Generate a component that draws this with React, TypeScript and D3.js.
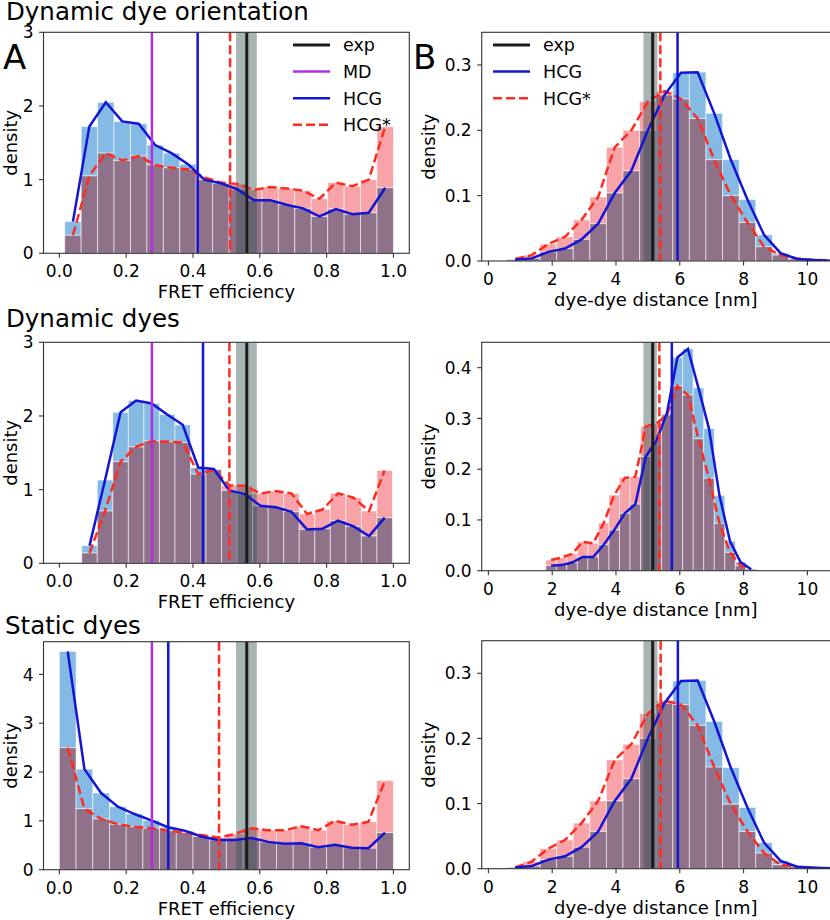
import React from 'react';
import * as d3 from 'd3';

// ---------- data ----------
const effTicks = [0, 0.2, 0.4, 0.6, 0.8, 1.0];
const distTicks = [0, 2, 4, 6, 8, 10];
const densTicksA = [0, 1, 2, 3];
const densTicksA3 = [0, 1, 2, 3, 4];
const densTicksB = [0, 0.1, 0.2, 0.3];
const densTicksB2 = [0, 0.1, 0.2, 0.3, 0.4];

// histogram bins: [first edge, bin width]
const binsOrientE = [0.016, 0.0492];
const binsDynE = [0.067, 0.0465];
const binsStatE = [0.0, 0.05];
const binsOrientD = [0.58, 0.52];
const binsDynD = [1.8, 0.33];
const binsStatD = [0.58, 0.52];

// FRET efficiency densities
const hcgOrientE = [0.43, 1.72, 2.05, 1.79, 1.76, 1.47, 1.36, 1.21, 1.0, 0.95, 0.87, 0.72, 0.72, 0.66, 0.61, 0.5, 0.6, 0.53, 0.55, 0.89];
const hcgStarOrientE = [0.245, 1.05, 1.36, 1.26, 1.32, 1.2, 1.16, 1.14, 1.03, 0.96, 0.94, 0.86, 0.9, 0.88, 0.85, 0.74, 0.96, 0.91, 1.0, 1.72];
const hcgDynE = [0.24, 1.13, 2.05, 2.21, 2.17, 2.02, 1.88, 1.3, 1.28, 0.99, 0.94, 0.78, 0.76, 0.7, 0.46, 0.47, 0.58, 0.5, 0.37, 0.62];
const hcgStarDynE = [0.14, 0.71, 1.38, 1.58, 1.66, 1.65, 1.64, 1.21, 1.27, 1.06, 1.05, 0.95, 0.98, 0.95, 0.67, 0.73, 0.95, 0.89, 0.71, 1.26];
const hcgStatE = [4.47, 2.06, 1.57, 1.29, 1.14, 1.01, 0.87, 0.8, 0.68, 0.61, 0.61, 0.65, 0.57, 0.53, 0.54, 0.46, 0.51, 0.45, 0.44, 0.76];
const hcgStarStatE = [2.5, 1.25, 1.04, 0.93, 0.88, 0.85, 0.8, 0.76, 0.71, 0.66, 0.73, 0.85, 0.81, 0.81, 0.89, 0.81, 1.0, 0.92, 0.98, 1.83];

// dye-dye distance densities
const hcgOrientD = [0.002, 0.004, 0.014, 0.019, 0.033, 0.057, 0.104, 0.138, 0.2, 0.254, 0.288, 0.289, 0.226, 0.155, 0.094, 0.04, 0.012, 0.003, 0.0015, 0.0005];
const hcgStarOrientD = [0.003, 0.009, 0.026, 0.037, 0.063, 0.098, 0.174, 0.2, 0.244, 0.26, 0.248, 0.218, 0.155, 0.1, 0.059, 0.022, 0.009, 0.004, 0.0015, 0.001];
const hcgDynD = [0.01, 0.011, 0.016, 0.027, 0.027, 0.051, 0.08, 0.113, 0.131, 0.225, 0.256, 0.31, 0.42, 0.437, 0.36, 0.28, 0.148, 0.058, 0.017, 0.003];
const hcgStarDynD = [0.021, 0.026, 0.033, 0.057, 0.054, 0.094, 0.149, 0.183, 0.185, 0.284, 0.29, 0.307, 0.364, 0.346, 0.26, 0.182, 0.093, 0.036, 0.01, 0.003];
const hcgStatD = [0.002, 0.004, 0.014, 0.019, 0.033, 0.057, 0.104, 0.138, 0.2, 0.254, 0.288, 0.289, 0.226, 0.155, 0.094, 0.04, 0.012, 0.003, 0.0015, 0.0005];
const hcgStarStatD = [0.002, 0.011, 0.031, 0.044, 0.07, 0.104, 0.167, 0.191, 0.238, 0.258, 0.252, 0.22, 0.156, 0.099, 0.057, 0.024, 0.006, 0.003, 0.001, 0.0005];

// vertical markers: [MD, HCG, HCG*, exp, exp low, exp high]
const markOrientE = [0.277, 0.414, 0.511, 0.561, 0.529, 0.591];
const markDynE = [0.277, 0.43, 0.509, 0.561, 0.529, 0.591];
const markStatE = [0.277, 0.326, 0.478, 0.561, 0.529, 0.591];
const markOrientD = [null, 5.93, 5.39, 5.15, 4.86, 5.3];
const markDynD = [null, 5.75, 5.36, 5.15, 4.86, 5.28];
const markStatD = [null, 5.94, 5.4, 5.15, 4.86, 5.3];

const legendA = ['exp', 'MD', 'HCG', 'HCG*'];
const legendB = ['exp', 'HCG', 'HCG*'];

// ---------- style ----------
const FONT = 'DejaVu Sans, Verdana, sans-serif';
const C_BLUE_BAR = '#84bae4';
const C_RED_BAR = '#f8a3a7';
const C_OVER = '#8f7189';
const C_BLUE = '#1414d4';
const C_RED = '#ff2b1f';
const C_MD = '#b22ee0';
const C_EXP = '#1c1c1c';
const DASH = '9,4';

type PanelCfg = {
  id: string;
  left: number; right: number; top: number; bottom: number;
  xDomain: [number, number]; yDomain: [number, number];
  xTicks: number[]; yTicks: number[];
  xFmt: (v: number) => string; yFmt: (v: number) => string;
  bins: number[]; blue: number[]; red: number[];
  marks: (number | null)[];
  xLabel: string;
  legend?: string[]; legendX?: number;
};

function Panel({ p }: { p: PanelCfg }) {
  const x = d3.scaleLinear().domain(p.xDomain).range([p.left, p.right]);
  const y = d3.scaleLinear().domain(p.yDomain).range([p.bottom, p.top]);
  const [b0, bw] = p.bins;
  const edges = p.blue.map((_, i) => [b0 + i * bw, b0 + (i + 1) * bw]);
  const centers = edges.map(e => (e[0] + e[1]) / 2);
  const line = d3.line<number>().x((_, i) => x(centers[i])).y(v => y(v));
  const clip = `clip-${p.id}`;
  const [md, hcg, hcgS, exp, eLo, eHi] = p.marks;
  const edgeStroke = 'rgba(255,255,255,0.55)';

  return (
    <g>
      <defs>
        <clipPath id={clip}>
          <rect x={p.left} y={p.top} width={p.right - p.left} height={p.bottom - p.top} />
        </clipPath>
      </defs>
      <g clipPath={`url(#${clip})`}>
        {edges.map((e, i) => {
          const b = p.blue[i], r = p.red[i];
          const m = Math.min(b, r), M = Math.max(b, r);
          const xa = x(e[0]), xb = x(e[1]);
          return (
            <g key={i}>
              <rect x={xa} y={y(M)} width={xb - xa} height={y(m) - y(M)}
                fill={b > r ? C_BLUE_BAR : C_RED_BAR} stroke={edgeStroke} strokeWidth={1} />
              <rect x={xa} y={y(m)} width={xb - xa} height={y(0) - y(m)}
                fill={C_OVER} stroke={edgeStroke} strokeWidth={1} />
            </g>
          );
        })}
        <rect x={x(eLo as number)} y={p.top} width={x(eHi as number) - x(eLo as number)} height={p.bottom - p.top}
          fill="#2f4f4f" fillOpacity={0.42} />
        <path d={line(p.red) || ''} fill="none" stroke={C_RED} strokeWidth={2.5} strokeDasharray={DASH} />
        <path d={line(p.blue) || ''} fill="none" stroke={C_BLUE} strokeWidth={2.5} />
        {md !== null && <line x1={x(md as number)} x2={x(md as number)} y1={p.top} y2={p.bottom} stroke={C_MD} strokeWidth={2.5} />}
        <line x1={x(hcg as number)} x2={x(hcg as number)} y1={p.top} y2={p.bottom} stroke={C_BLUE} strokeWidth={2.5} />
        <line x1={x(hcgS as number)} x2={x(hcgS as number)} y1={p.top} y2={p.bottom} stroke={C_RED} strokeWidth={2.5} strokeDasharray={DASH} />
        <line x1={x(exp as number)} x2={x(exp as number)} y1={p.top} y2={p.bottom} stroke={C_EXP} strokeWidth={3} />
      </g>
      {/* frame */}
      <rect x={p.left} y={p.top} width={p.right - p.left} height={p.bottom - p.top} fill="none" stroke="#333" strokeWidth={1.1} />
      {/* x ticks */}
      {p.xTicks.map(t => (
        <g key={'x' + t}>
          <line x1={x(t)} x2={x(t)} y1={p.bottom} y2={p.bottom + 4.5} stroke="#333" strokeWidth={1.1} />
          <text x={x(t)} y={p.bottom + 24} textAnchor="middle" fontSize={17} fontFamily={FONT}>{p.xFmt(t)}</text>
        </g>
      ))}
      {p.yTicks.map(t => (
        <g key={'y' + t}>
          <line x1={p.left - 4.5} x2={p.left} y1={y(t)} y2={y(t)} stroke="#333" strokeWidth={1.1} />
          <text x={p.left - 10} y={y(t)} dy="0.36em" textAnchor="end" fontSize={17} fontFamily={FONT}>{p.yFmt(t)}</text>
        </g>
      ))}
      <text x={(p.left + Math.min(p.right, 830)) / 2} y={p.bottom + 45} textAnchor="middle" fontSize={18} fontFamily={FONT}>{p.xLabel}</text>
      <text transform={`translate(${p.left - (p.id[0] === 'A' ? 27 : 47)},${(p.top + p.bottom) / 2}) rotate(-90)`}
        textAnchor="middle" fontSize={18} fontFamily={FONT}>density</text>
      {p.legend && p.legend.map((name, i) => {
        const cy = p.top + 12.7 + i * 26.6;
        const lx = p.legendX as number;
        const color = name === 'exp' ? C_EXP : name === 'MD' ? C_MD : name === 'HCG' ? C_BLUE : C_RED;
        return (
          <g key={name}>
            <line x1={lx} x2={lx + 37} y1={cy} y2={cy} stroke={color} strokeWidth={name === 'exp' ? 3 : 2.5}
              strokeDasharray={name === 'HCG*' ? DASH : undefined} />
            <text x={lx + 50} y={cy} dy="0.36em" fontSize={17.5} fontFamily={FONT}>{name}</text>
          </g>
        );
      })}
    </g>
  );
}

const f1 = d3.format('.1f');
const f0 = d3.format('d');

const AL = 43.5, AR = 409.3, BL = 481.7, BR = 834.5;

const panels: PanelCfg[] = [
  { id: 'A1', left: AL, right: AR, top: 32.3, bottom: 253.3, xDomain: [-0.0475, 1.0475], yDomain: [0, 3],
    xTicks: effTicks, yTicks: densTicksA, xFmt: f1, yFmt: f0, bins: binsOrientE, blue: hcgOrientE, red: hcgStarOrientE,
    marks: markOrientE, xLabel: 'FRET efficiency', legend: legendA, legendX: 293 },
  { id: 'A2', left: AL, right: AR, top: 342.3, bottom: 563.3, xDomain: [-0.0475, 1.0475], yDomain: [0, 3],
    xTicks: effTicks, yTicks: densTicksA, xFmt: f1, yFmt: f0, bins: binsDynE, blue: hcgDynE, red: hcgStarDynE,
    marks: markDynE, xLabel: 'FRET efficiency' },
  { id: 'A3', left: AL, right: AR, top: 641.7, bottom: 869.7, xDomain: [-0.0475, 1.0475], yDomain: [0, 4.67],
    xTicks: effTicks, yTicks: densTicksA3, xFmt: f1, yFmt: f0, bins: binsStatE, blue: hcgStatE, red: hcgStarStatE,
    marks: markStatE, xLabel: 'FRET efficiency' },
  { id: 'B1', left: BL, right: BR, top: 32.3, bottom: 261, xDomain: [-0.21, 10.85], yDomain: [0, 0.35],
    xTicks: distTicks, yTicks: densTicksB, xFmt: f0, yFmt: f1, bins: binsOrientD, blue: hcgOrientD, red: hcgStarOrientD,
    marks: markOrientD, xLabel: 'dye-dye distance [nm]', legend: legendB, legendX: 493 },
  { id: 'B2', left: BL, right: BR, top: 342.3, bottom: 570.7, xDomain: [-0.21, 10.85], yDomain: [0, 0.45],
    xTicks: distTicks, yTicks: densTicksB2, xFmt: f0, yFmt: f1, bins: binsDynD, blue: hcgDynD, red: hcgStarDynD,
    marks: markDynD, xLabel: 'dye-dye distance [nm]' },
  { id: 'B3', left: BL, right: BR, top: 640.7, bottom: 868.7, xDomain: [-0.21, 10.85], yDomain: [0, 0.35],
    xTicks: distTicks, yTicks: densTicksB, xFmt: f0, yFmt: f1, bins: binsStatD, blue: hcgStatD, red: hcgStarStatD,
    marks: markStatD, xLabel: 'dye-dye distance [nm]' },
];

const titles = [
  { text: 'Dynamic dye orientation', x: 6, y: 19.5 },
  { text: 'Dynamic dyes', x: 6, y: 327 },
  { text: 'Static dyes', x: 5, y: 634 },
];

export default function App() {
  return (
    <svg width={830} height={920} viewBox="0 0 830 920"
      style={{ position: 'absolute', left: 0, top: 0, background: '#fff' }}>
      <rect width={830} height={920} fill="#fff" />
      {panels.map(p => <Panel key={p.id} p={p} />)}
      {titles.map(t => (
        <text key={t.text} x={t.x} y={t.y} fontSize={24.5} fontFamily={FONT}>{t.text}</text>
      ))}
      <text x={3} y={68.5} fontSize={34} fontFamily={FONT}>A</text>
      <text x={413} y={68.5} fontSize={34} fontFamily={FONT}>B</text>
    </svg>
  );
}
